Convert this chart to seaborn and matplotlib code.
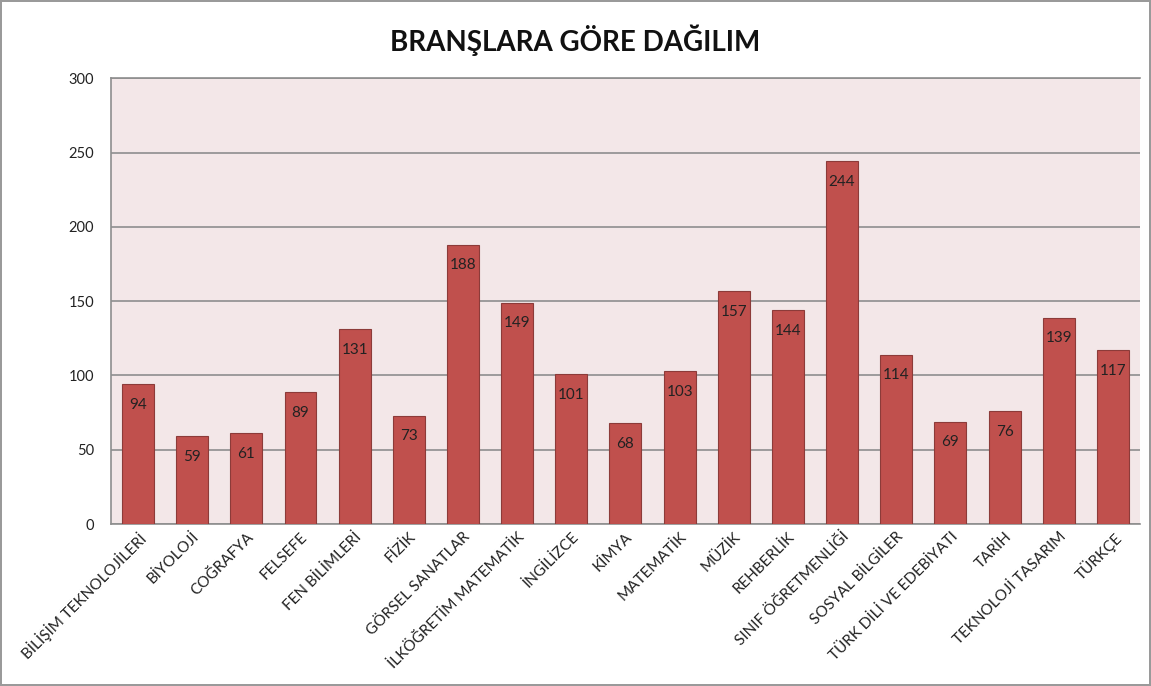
import matplotlib
matplotlib.use('Agg')
import matplotlib.pyplot as plt
import seaborn as sns
import pandas as pd

branches = ['BİLİŞİM TEKNOLOJİLERİ', 'BİYOLOJİ', 'COĞRAFYA', 'FELSEFE', 'FEN BİLİMLERİ',
            'FİZİK', 'GÖRSEL SANATLAR', 'İLKÖĞRETİM MATEMATİK', 'İNGİLİZCE', 'KİMYA',
            'MATEMATİK', 'MÜZİK', 'REHBERLİK', 'SINIF ÖĞRETMENLİĞİ', 'SOSYAL BİLGİLER',
            'TÜRK DİLİ VE EDEBİYATI', 'TARİH', 'TEKNOLOJİ TASARIM', 'TÜRKÇE']
counts = [94, 59, 61, 89, 131, 73, 188, 149, 101, 68, 103, 157, 144, 244, 114, 69, 76, 139, 117]
yticks = [0, 50, 100, 150, 200, 250, 300]

bar_color = '#C0504D'
bar_edge = '#8C3B39'
bg_color = '#F3E7E8'
grid_color = '#8E8E8E'

sns.set_theme(style='white')
plt.rcParams['font.family'] = ['Lato', 'DejaVu Sans']

df = pd.DataFrame({'branch': branches, 'count': counts})

fig = plt.figure(figsize=(11.51, 6.86), dpi=100)
fig.patch.set_edgecolor('#9A9A9A')
fig.patch.set_linewidth(1.5)
ax = fig.add_axes([0.0964, 0.236, 0.894, 0.650])
ax.set_facecolor(bg_color)

sns.barplot(data=df, x='branch', y='count', color=bar_color, width=0.59,
            edgecolor=bar_edge, linewidth=0.8, saturation=1, ax=ax, zorder=3)
ax.bar_label(ax.containers[0], padding=-20, fontsize=11, color='#222222')

ax.set_ylim(0, 300)
ax.set_yticks(yticks)
ax.set_xlim(-0.5, len(branches) - 0.5)
ax.yaxis.grid(True, color=grid_color, linewidth=1.2, zorder=0)
ax.set_axisbelow(True)
for s in ['left', 'bottom', 'top']:
    ax.spines[s].set_color(grid_color)
    ax.spines[s].set_linewidth(1.2)
ax.spines['right'].set_visible(False)

ax.set_xlabel('')
ax.set_ylabel('')
ax.tick_params(axis='y', labelsize=10.5, pad=12, colors='#222222', length=0)
ax.tick_params(axis='x', labelsize=11, pad=4, colors='#222222', length=0)
plt.setp(ax.get_xticklabels(), rotation=45, ha='right', rotation_mode='anchor')

fig.text(0.5, 0.942, 'BRANŞLARA GÖRE DAĞILIM', ha='center', va='center',
         fontsize=20, fontweight='bold', color='#111111')

fig.savefig('out.png', dpi=100, edgecolor=fig.get_edgecolor())
